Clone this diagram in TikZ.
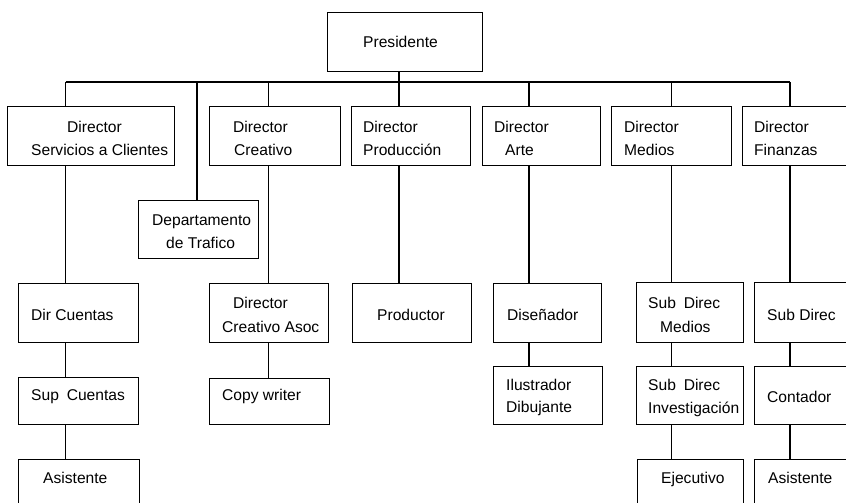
\documentclass[tikz,border=0pt]{standalone}
\usepackage{fontspec}
\setmainfont{Liberation Sans}
\begin{document}
\begin{tikzpicture}[x=1pt,y=-1pt,
  box/.style={draw, line width=1.2pt, rectangle, inner sep=0pt, anchor=north west},
  lbl/.style={inner sep=0pt, anchor=base west, font=\fontsize{15.6}{18}\selectfont},
  con/.style={line width=1.2pt}]
\useasboundingbox (0,0) rectangle (846,503);
\fill[white] (0,0) rectangle (846,503);
\clip (0,0) rectangle (846,503);
\newcommand\mybox[5]{\node[box, minimum width={#4-#2}, minimum height={#5-#3}] (#1) at (#2,#3) {};}
% boxes
\mybox{pres}{327}{12}{482}{71}
\mybox{serv}{7}{106}{174}{165}
\mybox{crea}{209}{106}{340}{165}
\mybox{prod}{351}{106}{470}{165}
\mybox{arte}{482}{106}{600}{165}
\mybox{medi}{611}{106}{731}{165}
\mybox{fina}{742}{106}{880}{165}
\mybox{traf}{138}{200}{258}{258}
\mybox{dcue}{18}{283}{138}{342}
\mybox{casoc}{209}{283}{328}{342}
\mybox{produc}{352}{283}{471}{342}
\mybox{dise}{493}{283}{601}{342}
\mybox{sdm}{636}{282}{743}{342}
\mybox{sdf}{754}{282}{880}{342}
\mybox{supc}{18}{377}{138}{424}
\mybox{copy}{209}{378}{329}{424}
\mybox{ilus}{493}{366}{602}{424}
\mybox{sdi}{636}{366}{743}{424}
\mybox{cont}{754}{366}{880}{424}
\mybox{asia}{18}{459}{139}{530}
\mybox{ejec}{637}{459}{743}{530}
\mybox{asib}{754}{459}{880}{530}
% column coordinates
\coordinate (xa) at (65.5,82);
\coordinate (xt) at (197,82);
\coordinate (xc) at (268.5,82);
\coordinate (xp) at (399,82);
\coordinate (xr) at (529,82);
\coordinate (xm) at (671.5,82);
\coordinate (xf) at (790,82);
% connectors
\draw[con] (xa) -- (xf);
\draw[con] (xa) -- (xa |- serv.north);
\draw[con] (xt) -- (xt |- traf.north);
\draw[con] (xc) -- (xc |- crea.north);
\draw[con] (xp |- pres.south) -- (xp |- prod.north);
\draw[con] (xr) -- (xr |- arte.north);
\draw[con] (xm) -- (xm |- medi.north);
\draw[con] (xf) -- (xf |- fina.north);
\draw[con] (xa |- serv.south) -- (xa |- dcue.north);
\draw[con] (xa |- dcue.south) -- (xa |- supc.north);
\draw[con] (xa |- supc.south) -- (xa |- asia.north);
\draw[con] (xc |- crea.south) -- (xc |- casoc.north);
\draw[con] (xc |- casoc.south) -- (xc |- copy.north);
\draw[con] (xp |- prod.south) -- (xp |- produc.north);
\draw[con] (xr |- arte.south) -- (xr |- dise.north);
\draw[con] (xr |- dise.south) -- (xr |- ilus.north);
\draw[con] (xm |- medi.south) -- (xm |- sdm.north);
\draw[con] (xm |- sdm.south) -- (xm |- sdi.north);
\draw[con] (xm |- sdi.south) -- (xm |- ejec.north);
\draw[con] (xf |- fina.south) -- (xf |- sdf.north);
\draw[con] (xf |- sdf.south) -- (xf |- cont.north);
\draw[con] (xf |- cont.south) -- (xf |- asib.north);
% labels
\node[lbl] (t1) at (363,48) {Presidente};
\node[lbl] (t2) at (67,132) {Director};
\node[lbl] (t3) at (31,155) {Servicios a Clientes};
\node[lbl] (t4) at (233,132) {Director};
\node[lbl] (t5) at (234,155) {Creativo};
\node[lbl] (t6) at (363,132) {Director};
\node[lbl] (t7) at (363,155) {Producción};
\node[lbl] (t8) at (494,132) {Director};
\node[lbl] (t9) at (505,155) {Arte};
\node[lbl] (t10) at (624,132) {Director};
\node[lbl] (t11) at (624,155) {Medios};
\node[lbl] (t12) at (754,132) {Director};
\node[lbl] (t13) at (754,155) {Finanzas};
\node[lbl] (t14) at (152,225) {Departamento};
\node[lbl] (t15) at (166,248) {de Trafico};
\node[lbl] (t16) at (31,320) {Dir Cuentas};
\node[lbl] (t17) at (233,308) {Director};
\node[lbl] (t18) at (222,332) {Creativo Asoc};
\node[lbl] (t19) at (377,320) {Productor};
\node[lbl] (t20) at (507,320) {Diseñador};
\node[lbl] (t21) at (648,308) {Sub\hspace{0.5em}Direc};
\node[lbl] (t22) at (660,332) {Medios};
\node[lbl] (t23) at (767,320) {Sub Direc};
\node[lbl] (t24) at (31,400) {Sup\hspace{0.5em}Cuentas};
\node[lbl] (t25) at (222,400) {Copy writer};
\node[lbl] (t26) at (506,390) {Ilustrador};
\node[lbl] (t27) at (506,412) {Dibujante};
\node[lbl] (t28) at (648,390) {Sub\hspace{0.5em}Direc};
\node[lbl] (t29) at (648,413) {Investigación};
\node[lbl] (t30) at (767,402) {Contador};
\node[lbl] (t31) at (43,483) {Asistente};
\node[lbl] (t32) at (661,483) {Ejecutivo};
\node[lbl] (t33) at (768,483) {Asistente};
\end{tikzpicture}
\end{document}
